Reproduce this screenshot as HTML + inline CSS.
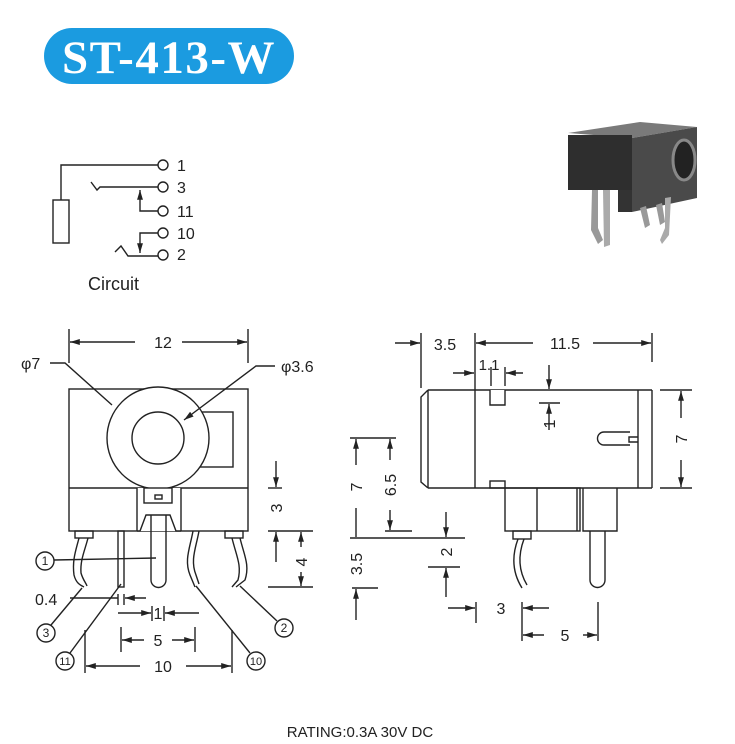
<!DOCTYPE html>
<html><head><meta charset="utf-8"><style>
html,body{margin:0;padding:0;background:#fff;width:735px;height:744px;overflow:hidden}
svg{display:block}
text{font-family:"Liberation Sans",Arial,sans-serif;fill:#222}
</style></head><body>
<svg width="735" height="744" viewBox="0 0 735 744" xmlns="http://www.w3.org/2000/svg">
<defs>
<marker id="a" viewBox="0 0 10 10" refX="10" refY="5" markerWidth="7" markerHeight="7" orient="auto-start-reverse"><path d="M0,2 L10,5 L0,8 z" fill="#222"/></marker>
</defs>
<!-- title -->
<rect x="44" y="28" width="250" height="56" rx="28" fill="#1b9be0"/>
<text x="169" y="73" text-anchor="middle" font-weight="bold" font-size="47" letter-spacing="1.5" style="fill:#fff;font-family:'Liberation Serif',serif">ST-413-W</text>

<!-- photo -->
<g>
<path d="M568,133 L640,122 L697,127 L632,138 Z" fill="#7a7a7a"/>
<rect x="568" y="135" width="64" height="55" fill="#2e2e2e"/>
<path d="M632,138 L697,127 L697,198 L632,212 Z" fill="#4a4a4a"/>
<ellipse cx="684" cy="160" rx="11" ry="20" fill="#222" stroke="#888" stroke-width="3"/>
<rect x="618" y="190" width="14" height="22" fill="#333"/>
<path d="M592,190 L598,190 L598,228 L603,240 L598,244 L591,230 Z" fill="#999"/>
<path d="M603,190 L610,190 L610,245 L604,247 Z" fill="#aaa"/>
<path d="M640,208 L646,206 L650,225 L645,228 Z" fill="#999"/>
<path d="M656,205 L662,203 L665,222 L660,225 Z" fill="#999"/>
<path d="M665,198 L671,197 L669,235 L662,244 L660,240 L665,228 Z" fill="#aaa"/>
</g>

<g fill="none" stroke="#222" stroke-width="1.4">
<!-- circuit -->
<rect x="53" y="200" width="16" height="43"/>
<polyline points="61,200 61,165 158,165"/>
<circle cx="163" cy="165" r="5"/>
<polyline points="91,182 97,190 100,187 158,187"/>
<circle cx="163" cy="187" r="5"/>
<polyline points="158,211 140,211 140,190" marker-end="url(#a)"/>
<circle cx="163" cy="211" r="5"/>
<polyline points="158,233 140,233 140,253" marker-end="url(#a)"/>
<circle cx="163" cy="233" r="5"/>
<polyline points="115,252 121,246 128,256 158,256"/>
<circle cx="163" cy="255" r="5"/>

<!-- front view -->
<line x1="69" y1="329" x2="69" y2="363"/>
<line x1="248" y1="329" x2="248" y2="363"/>
<line x1="135" y1="342" x2="70" y2="342" marker-end="url(#a)"/>
<line x1="182" y1="342" x2="247" y2="342" marker-end="url(#a)"/>
<rect x="69" y="389" width="179" height="142"/>
<line x1="69" y1="488" x2="248" y2="488"/>
<rect x="200" y="412" width="33" height="55"/>
<circle cx="158" cy="438" r="51" fill="#fff"/>
<circle cx="158" cy="438" r="26"/>
<rect x="137" y="488" width="44" height="43" fill="#fff" stroke="none"/>
<line x1="137" y1="488" x2="137" y2="531"/>
<line x1="181" y1="488" x2="181" y2="531"/>
<rect x="144" y="488" width="28" height="15"/>
<rect x="155" y="495" width="7" height="4"/>
<polyline points="137,531 140,531 146,515 170,515 176,531 181,531"/>
<path d="M151,515 L151,580 A7.5,7.5 0 0 0 166,580 L166,515"/>
<rect x="75" y="531" width="18" height="7"/>
<path d="M79,538 C76,550 72,560 74,575 C76,583 80,585 84,587"/>
<path d="M88,538 C85,550 80,560 81,573 C83,580 86,583 87,586"/>
<rect x="118" y="531" width="6" height="56"/>
<path d="M193,531 C190,548 184,560 190,575 L195,587"/>
<path d="M199,531 C196,548 190,560 196,575 L199,584"/>
<rect x="225" y="531" width="18" height="7"/>
<path d="M232,538 C236,555 242,565 238,580 L232,587"/>
<path d="M240,538 C244,555 250,565 245,580 L236,587"/>
<!-- dim 3 / 4 -->
<line x1="276" y1="461" x2="276" y2="487" marker-end="url(#a)"/>
<line x1="268" y1="488" x2="282" y2="488"/>
<line x1="268" y1="531" x2="313" y2="531"/>
<line x1="268" y1="587" x2="313" y2="587"/>
<line x1="276" y1="562" x2="276" y2="532" marker-end="url(#a)"/>
<line x1="301" y1="547" x2="301" y2="532" marker-end="url(#a)"/>
<line x1="301" y1="572" x2="301" y2="586" marker-end="url(#a)"/>
<!-- callouts -->
<circle cx="45" cy="561" r="9"/><line x1="54" y1="560" x2="156" y2="558"/>
<circle cx="46" cy="633" r="9"/><line x1="82" y1="588" x2="51" y2="625"/>
<circle cx="65" cy="661" r="9"/><line x1="121" y1="584" x2="70" y2="653"/>
<circle cx="284" cy="628" r="9"/><line x1="240" y1="586" x2="277" y2="621"/>
<circle cx="256" cy="661" r="9"/><line x1="196" y1="586" x2="250" y2="653"/>
<!-- 0.4 -->
<line x1="70" y1="598" x2="118" y2="598"/>
<line x1="118" y1="594" x2="118" y2="605"/>
<line x1="124" y1="594" x2="124" y2="605"/>
<line x1="146" y1="598" x2="125" y2="598" marker-end="url(#a)"/>
<!-- 1 -->
<line x1="152" y1="606" x2="152" y2="621"/>
<line x1="164" y1="606" x2="164" y2="621"/>
<line x1="118" y1="613" x2="151" y2="613" marker-end="url(#a)"/>
<line x1="199" y1="613" x2="165" y2="613" marker-end="url(#a)"/>
<!-- 5 -->
<line x1="121" y1="627" x2="121" y2="652"/>
<line x1="195" y1="627" x2="195" y2="652"/>
<line x1="144" y1="640" x2="122" y2="640" marker-end="url(#a)"/>
<line x1="172" y1="640" x2="194" y2="640" marker-end="url(#a)"/>
<!-- 10 -->
<line x1="85" y1="630" x2="85" y2="673"/>
<line x1="232" y1="630" x2="232" y2="673"/>
<line x1="140" y1="666" x2="86" y2="666" marker-end="url(#a)"/>
<line x1="186" y1="666" x2="231" y2="666" marker-end="url(#a)"/>
<!-- phi leaders -->
<polyline points="50,363 65,363 112,405" />
<polyline points="275,366 256,366 184,420" marker-end="url(#a)"/>

<!-- side view -->
<line x1="421" y1="333" x2="421" y2="388"/>
<line x1="475" y1="333" x2="475" y2="488"/>
<line x1="652" y1="333" x2="652" y2="362"/>
<line x1="395" y1="343" x2="420" y2="343" marker-end="url(#a)"/>
<line x1="533" y1="343" x2="476" y2="343" marker-end="url(#a)"/>
<line x1="593" y1="343" x2="651" y2="343" marker-end="url(#a)"/>
<polyline points="428,390 421,397 421,482 428,488"/>
<line x1="428" y1="390" x2="428" y2="488"/>
<line x1="428" y1="390" x2="652" y2="390"/>
<line x1="428" y1="488" x2="652" y2="488"/>
<line x1="638" y1="390" x2="638" y2="488"/>
<line x1="652" y1="390" x2="652" y2="488"/>
<polyline points="490,390 490,405 505,405 505,390" fill="#fff"/>
<rect x="490" y="481" width="15" height="7"/>
<path d="M630,432 L604,432 A6.5,6.5 0 0 0 604,445 L630,445"/>
<polyline points="638,437 629,437 629,442 638,442"/>
<line x1="453" y1="373" x2="474" y2="373" marker-end="url(#a)"/>
<line x1="491" y1="367" x2="491" y2="386"/>
<line x1="505" y1="367" x2="505" y2="386"/>
<line x1="523" y1="373" x2="506" y2="373" marker-end="url(#a)"/>
<line x1="549" y1="365" x2="549" y2="389" marker-end="url(#a)"/>
<line x1="539" y1="403" x2="560" y2="403"/>
<line x1="549" y1="430" x2="549" y2="404" marker-end="url(#a)"/>
<line x1="660" y1="390" x2="692" y2="390"/>
<line x1="660" y1="488" x2="692" y2="488"/>
<line x1="681" y1="418" x2="681" y2="391" marker-end="url(#a)"/>
<line x1="681" y1="460" x2="681" y2="487" marker-end="url(#a)"/>
<rect x="505" y="488" width="75" height="43"/>
<line x1="537" y1="488" x2="537" y2="531"/>
<line x1="577" y1="488" x2="577" y2="531"/>
<polyline points="583,488 583,531 617,531 617,488"/>
<path d="M590,531 L590,580 A7.5,7.5 0 0 0 605,580 L605,531"/>
<rect x="513" y="531" width="18" height="8"/>
<path d="M518,539 C512,555 512,572 522,588"/>
<path d="M524,539 C518,555 518,570 527,585"/>
<!-- left dims -->
<line x1="350" y1="438" x2="396" y2="438"/>
<line x1="356" y1="465" x2="356" y2="439" marker-end="url(#a)"/>
<line x1="356" y1="508" x2="356" y2="537"/>
<line x1="390" y1="460" x2="390" y2="439" marker-end="url(#a)"/>
<line x1="390" y1="510" x2="390" y2="530" marker-end="url(#a)"/>
<line x1="385" y1="531" x2="412" y2="531"/>
<line x1="350" y1="538" x2="465" y2="538"/>
<line x1="446" y1="512" x2="446" y2="537" marker-end="url(#a)"/>
<line x1="428" y1="567" x2="460" y2="567"/>
<line x1="446" y1="597" x2="446" y2="568" marker-end="url(#a)"/>
<line x1="352" y1="588" x2="378" y2="588"/>
<line x1="356" y1="620" x2="356" y2="589" marker-end="url(#a)"/>
<line x1="448" y1="608" x2="475" y2="608" marker-end="url(#a)"/>
<line x1="476" y1="602" x2="476" y2="623"/>
<line x1="522" y1="602" x2="522" y2="641"/>
<line x1="549" y1="608" x2="523" y2="608" marker-end="url(#a)"/>
<line x1="598" y1="602" x2="598" y2="641"/>
<line x1="544" y1="635" x2="523" y2="635" marker-end="url(#a)"/>
<line x1="583" y1="635" x2="597" y2="635" marker-end="url(#a)"/>
</g>

<g font-size="16">
<text x="177" y="171">1</text>
<text x="177" y="193">3</text>
<text x="177" y="217">11</text>
<text x="177" y="239">10</text>
<text x="177" y="260">2</text>
<text x="88" y="290" font-size="18">Circuit</text>
<text x="163" y="348" text-anchor="middle">12</text>
<text x="21" y="369">φ7</text>
<text x="281" y="372">φ3.6</text>
<text transform="translate(282,508) rotate(-90)" text-anchor="middle">3</text>
<text transform="translate(307,562) rotate(-90)" text-anchor="middle">4</text>
<text x="35" y="605">0.4</text>
<text x="158" y="619" text-anchor="middle">1</text>
<text x="158" y="646" text-anchor="middle">5</text>
<text x="163" y="672" text-anchor="middle">10</text>
<text x="445" y="350" text-anchor="middle">3.5</text>
<text x="565" y="349" text-anchor="middle">11.5</text>
<text x="489" y="370" text-anchor="middle" font-size="15">1.1</text>
<text transform="translate(555,424) rotate(-90)" text-anchor="middle">1</text>
<text transform="translate(687,439) rotate(-90)" text-anchor="middle">7</text>
<text transform="translate(362,487) rotate(-90)" text-anchor="middle">7</text>
<text transform="translate(396,485) rotate(-90)" text-anchor="middle">6.5</text>
<text transform="translate(362,564) rotate(-90)" text-anchor="middle">3.5</text>
<text transform="translate(452,552) rotate(-90)" text-anchor="middle">2</text>
<text x="501" y="614" text-anchor="middle">3</text>
<text x="565" y="641" text-anchor="middle">5</text>
</g>
<g font-size="12" text-anchor="middle">
<text x="45" y="565">1</text>
<text x="46" y="637">3</text>
<text x="65" y="665" font-size="11">11</text>
<text x="284" y="632">2</text>
<text x="256" y="665" font-size="11">10</text>
</g>
<text x="360" y="737" text-anchor="middle" font-size="15">RATING:0.3A 30V DC</text>
</svg>
</body></html>
